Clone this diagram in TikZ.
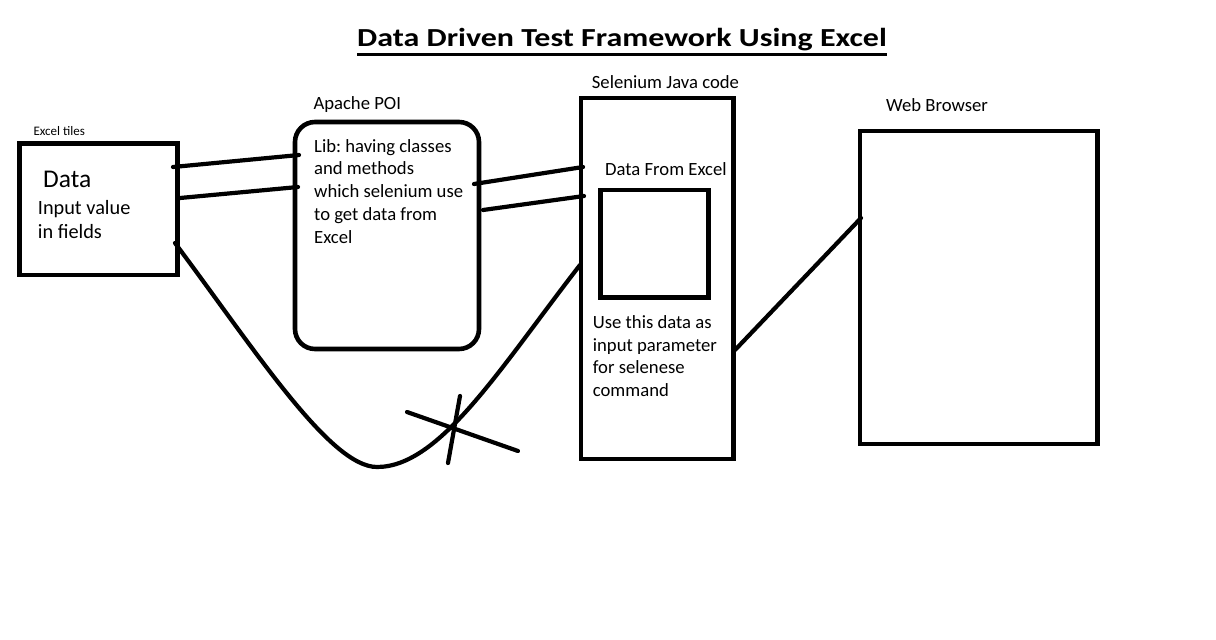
\documentclass[tikz,border=0pt]{standalone}
\usepackage{fontspec}
\usepackage{graphicx}
\setmainfont{Carlito}
\frenchspacing

\begin{document}
\begin{tikzpicture}[
  x=1pt, y=-1pt,
  box/.style={
    draw,
    line width=4.6pt,
    inner sep=0pt,
    outer sep=0pt
  },
  link/.style={
    draw,
    line width=4.2pt,
    line cap=round
  },
  tag/.style={
    anchor=base west,
    inner sep=0pt,
    font=\fontsize{18.67}{22.8}\selectfont
  },
  body/.style={
    tag,
    align=left
  },
]
\useasboundingbox (0,0) rectangle (1216,640);

% title
\node[tag, font=\fontsize{26}{31}\selectfont\bfseries] (title) at (357,46.7)
  {\scalebox{1.23}[1]{Data Driven Test Framework Using Excel}};
\draw[line width=3pt] ([yshift=-7.5pt]title.base west) -- ([yshift=-7.5pt]title.base east);

% boxes
\node[box, minimum width=158, minimum height=131.5] (excel) at (98.5,209.25) {};
\node[box, rounded corners=20, minimum width=184, minimum height=227] (poi) at (387,235.5) {};
\node[box, minimum width=152.5, minimum height=361] (selenium) at (657.25,278.5) {};
\node[box, minimum width=107.8, minimum height=107.5] (fromexcel) at (654.4,243.75) {};
\node[box, minimum width=237.5, minimum height=313] (browser) at (978.75,287.5) {};

% texts (multi-line ones sit on their last line)
\node[tag, font=\fontsize{13}{15}\selectfont] (excelcap) at (33.3,135) {Excel tiles};
\node[tag, font=\fontsize{25.5}{30}\selectfont] (datacap) at (43,187.5) {Data};
\node[body, font=\fontsize{20.3}{24.7}\selectfont] (datatext) at (37.7,238.7) {Input value\\in fields};
\node[tag] (poicap) at (313.3,109.3) {Apache POI};
\node[body] (poitext) at (314,243.2) {Lib: having classes\\and methods\\which selenium use\\to get data from\\Excel};
\node[tag] (selcap) at (591.7,88.3) {Selenium Java code};
\node[tag] (fromcap) at (605,175) {Data From Excel};
\node[body] (seltext) at (592.7,396.7) {Use this data as\\input parameter\\for selenese\\command};
\node[tag] (browsercap) at (886,111.7) {Web Browser};

% connectors
\draw[link] ([shift={(-4.5,-42.25)}]excel.east) -- ([shift={(4,-80.5)}]poi.west);
\draw[link] ([shift={(2.5,-11.25)}]excel.east) -- ([shift={(3,-48.5)}]poi.west);
\draw[link] ([shift={(-5,-51.5)}]poi.east) -- ([shift={(2,-111.5)}]selenium.west);
\draw[link] ([shift={(4,-25.5)}]poi.east) -- ([shift={(3,-82.5)}]selenium.west);
\draw[link] ([shift={(1.5,71.5)}]selenium.east) -- ([shift={(1,-69.5)}]browser.west);
\draw[link] ([shift={(-2.5,33.75)}]excel.east)
  .. controls (255,350) and (330,467) .. (377,467)
  .. controls (440,467) and (500,368) .. ([shift={(-1,-13.5)}]selenium.west);

% cut mark
\coordinate (cut) at (455,424);
\draw[link] ([shift={(-48,-12)}]cut) -- ([shift={(63,27)}]cut);
\draw[link] ([shift={(5,-28)}]cut) -- ([shift={(-7,39)}]cut);
\end{tikzpicture}
\end{document}
